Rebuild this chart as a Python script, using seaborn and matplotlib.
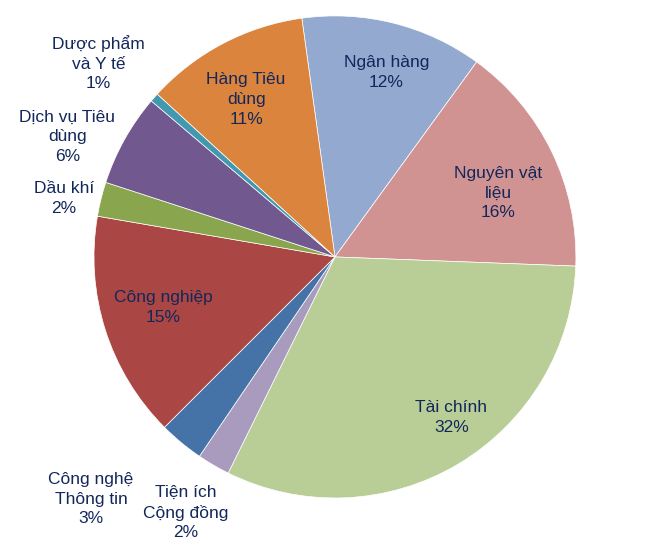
import numpy as np
import matplotlib
matplotlib.use("Agg")
import matplotlib.pyplot as plt
import seaborn as sns

sns.set_theme(style="white")
plt.rcParams['font.family'] = ['Liberation Sans', 'DejaVu Sans']

# Data (clockwise, starting just left of 12 o'clock)
labels = ["Ngân hàng", "Nguyên vật\nliệu", "Tài chính", "Tiện ích\nCộng đồng",
          "Công nghệ\nThông tin", "Công nghiệp", "Dầu khí", "Dịch vụ Tiêu\ndùng",
          "Dược phẩm\nvà Y tế", "Hàng Tiêu\ndùng"]
values = [12.2, 15.6, 31.7, 2.2, 3.0, 15.2, 2.3, 6.2, 0.6, 11.0]
colors = ["#93A9CF", "#D19392", "#B9CD96", "#A99BBD", "#4572A7",
          "#AA4643", "#89A54E", "#71588F", "#4198AF", "#DB843D"]

# label placement (radial distance in radii, angle shift in degrees)
label_dist = [0.793, 0.727, 0.822, 1.227, 1.426, 0.742, 1.151, 1.218, 1.269, 0.751]
label_shift = [-1.6, -4.5, 5.2, 0, -5.6, -1.25, 1.8, 5.0, 2.1, 1.7]

fig = plt.figure(figsize=(6.54, 5.58), dpi=100)
ax = fig.add_axes([0, 0, 1, 1])

wedges, _ = ax.pie(values, colors=sns.color_palette(colors), startangle=97.9,
                   counterclock=False, radius=1,
                   wedgeprops=dict(edgecolor="white", linewidth=0.5))

total = sum(values)
for w, lab, v, d, s in zip(wedges, labels, values, label_dist, label_shift):
    ang = np.deg2rad((w.theta1 + w.theta2) / 2 + s)
    ax.text(d * np.cos(ang), d * np.sin(ang), f"{lab}\n{v / total * 100:.0f}%",
            ha="center", va="center", fontsize=12.5, color="#13275A",
            linespacing=1.4)

ax.set_xlim(-1.390, 1.324)
ax.set_ylim(-1.249, 1.066)
ax.set_aspect("auto")
ax.axis("off")

fig.savefig("out.png", dpi=100)
